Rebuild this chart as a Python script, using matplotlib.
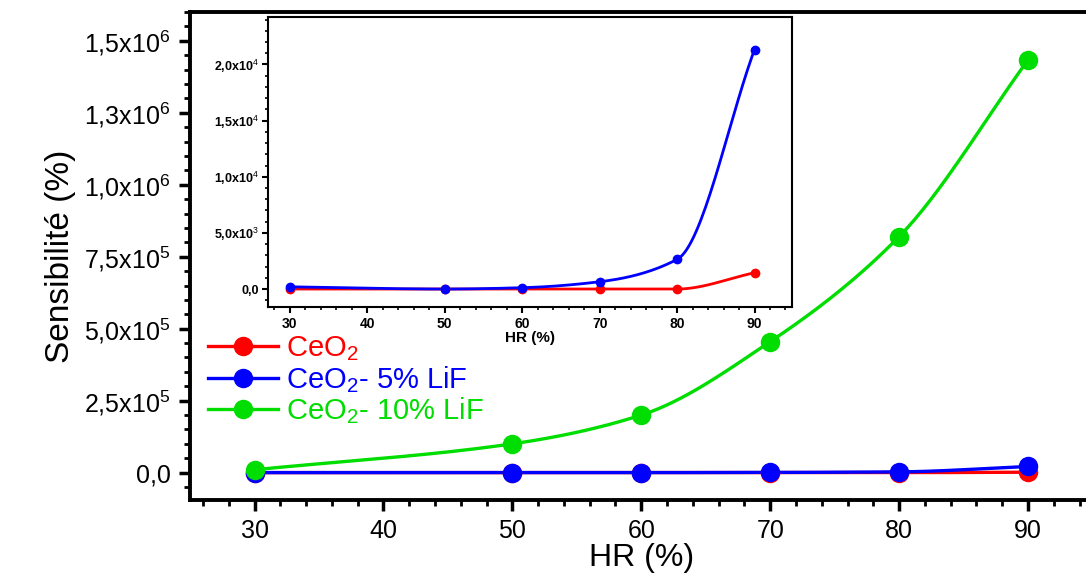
import numpy as np
import matplotlib
matplotlib.use("Agg")
import matplotlib.pyplot as plt
from matplotlib.ticker import MultipleLocator, FixedLocator

plt.rcParams['font.family'] = ['Liberation Sans', 'DejaVu Sans']
plt.rcParams['mathtext.fontset'] = 'custom'
plt.rcParams['mathtext.rm'] = 'Liberation Sans'
plt.rcParams['mathtext.it'] = 'Liberation Sans'
plt.rcParams['mathtext.bf'] = 'Liberation Sans:bold'

# data
hr = [30, 50, 60, 70, 80, 90]
ceo2 = [0, 0, 0, 0, 0, 1450]
ceo2_5lif = [200, 0, 120, 650, 2640, 21330]
ceo2_10lif = [1.0e4, 1.0e5, 2.0e5, 4.55e5, 8.2e5, 1.434e6]

main_yticks = [0, 2.5e5, 5.0e5, 7.5e5, 1.0e6, 1.25e6, 1.5e6]
main_ylabels = ["0,0", r"2,5x10$^5$", r"5,0x10$^5$", r"7,5x10$^5$",
                r"1,0x10$^6$", r"1,3x10$^6$", r"1,5x10$^6$"]
inset_yticks = [0, 5e3, 1e4, 1.5e4, 2e4]
inset_ylabels = ["0,0", r"5,0x10$^3$", r"1,0x10$^4$", r"1,5x10$^4$", r"2,0x10$^4$"]

names = [r"CeO$_2$", r"CeO$_2$- 5% LiF", r"CeO$_2$- 10% LiF"]
colors = ["#ff0000", "#0000ff", "#00dd00"]


def smooth(x, y, n=200):
    # monotone cubic (pchip-like) curve through the points, for drawing only
    x = np.asarray(x, float)
    y = np.asarray(y, float)
    h = np.diff(x)
    d = np.diff(y) / h
    m = np.zeros_like(y)
    for i in range(1, len(x) - 1):
        if d[i - 1] * d[i] > 0:
            w1 = 2 * h[i] + h[i - 1]
            w2 = h[i] + 2 * h[i - 1]
            m[i] = (w1 + w2) / (w1 / d[i - 1] + w2 / d[i])
    m[0] = d[0]
    m[-1] = d[-1]
    xs = np.linspace(x[0], x[-1], n)
    idx = np.clip(np.searchsorted(x, xs) - 1, 0, len(x) - 2)
    t = (xs - x[idx]) / h[idx]
    h00 = 2 * t**3 - 3 * t**2 + 1
    h10 = t**3 - 2 * t**2 + t
    h01 = -2 * t**3 + 3 * t**2
    h11 = t**3 - t**2
    ys = h00 * y[idx] + h10 * h[idx] * m[idx] + h01 * y[idx + 1] + h11 * h[idx] * m[idx + 1]
    return xs, ys


fig = plt.figure(figsize=(10.86, 5.76), dpi=100)
ax = fig.add_axes([0.175, 0.132, 0.831, 0.847])

series = [ceo2, ceo2_5lif, ceo2_10lif]
order = [2, 0, 1]
for i in order:
    xs, ys = smooth(hr, series[i])
    ax.plot(xs, ys, color=colors[i], lw=2.4, zorder=2 + i * 0.1)
    ax.plot(hr, series[i], 'o', color=colors[i], ms=13, zorder=3 + i * 0.1)

ax.set_xlim(25, 95)
ax.set_ylim(-0.95e5, 1.6e6)
ax.xaxis.set_major_locator(MultipleLocator(10))
ax.xaxis.set_minor_locator(MultipleLocator(2))
ax.yaxis.set_major_locator(FixedLocator(main_yticks))
ax.yaxis.set_minor_locator(MultipleLocator(5e4))
ax.set_yticklabels(main_ylabels)
ax.tick_params(which='major', direction='out', length=8, width=2.5, labelsize=18, pad=6)
ax.tick_params(which='minor', direction='out', length=4, width=2)
for s in ['left', 'bottom', 'top']:
    ax.spines[s].set_linewidth(2.8)
ax.spines['right'].set_visible(False)
ax.set_xlabel("HR (%)", fontsize=23, labelpad=0)
ax.set_ylabel("Sensibilité (%)", fontsize=24, labelpad=6)

handles = [plt.Line2D([], [], color=c, lw=2.4, marker='o', ms=13) for c in colors]
leg = ax.legend(handles, names, loc='upper left', bbox_to_anchor=(0.0, 0.375),
                frameon=False, fontsize=21, handlelength=2.4, handletextpad=0.3,
                labelspacing=0.02, borderaxespad=0.2)
for t, c in zip(leg.get_texts(), colors):
    t.set_color(c)

# inset
ins = fig.add_axes([0.247, 0.467, 0.482, 0.503])
for i in [0, 1]:
    xs, ys = smooth(hr, series[i])
    ins.plot(xs, ys, color=colors[i], lw=2, zorder=2 + i * 0.1)
    ins.plot(hr, series[i], 'o', color=colors[i], ms=6, zorder=3 + i * 0.1)
ins.set_xlim(27.2, 94.8)
ins.set_ylim(-1600, 24200)
ins.xaxis.set_major_locator(MultipleLocator(10))
ins.xaxis.set_minor_locator(MultipleLocator(2))
ins.yaxis.set_major_locator(FixedLocator(inset_yticks))
ins.yaxis.set_minor_locator(MultipleLocator(1000))
ins.set_yticklabels(inset_ylabels)
ins.tick_params(which='major', direction='out', length=4, width=1.5, pad=3)
ins.tick_params(axis='x', labelsize=10)
ins.tick_params(axis='y', labelsize=9)
ins.tick_params(which='minor', direction='out', length=2.5, width=1.2)
for lab in ins.get_xticklabels() + ins.get_yticklabels():
    lab.set_fontweight('bold')
for s in ins.spines.values():
    s.set_linewidth(1.5)
ins.set_xlabel("HR (%)", fontsize=11, fontweight='bold', labelpad=0)

fig.savefig("out.png", dpi=100)
